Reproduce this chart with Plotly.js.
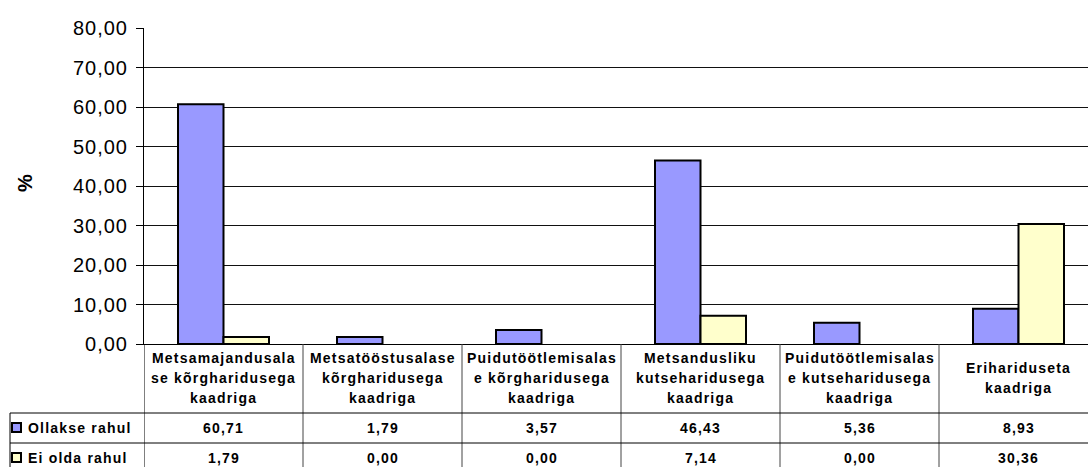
<!DOCTYPE html>
<html>
<head>
<meta charset="utf-8">
<script src="https://cdn.plot.ly/plotly-3.0.1.min.js"></script>
<style>
html,body{margin:0;padding:0;background:#fff;}
#chart{width:1088px;height:467px;}
svg text.annotation-text{letter-spacing:1.2px;}
.ytick text{letter-spacing:1px;}
</style>
</head>
<body>
<div id="chart"></div>
<script>
// Data
const categoryLines = [
  ["Metsamajandusala", "se kõrgharidusega", "kaadriga"],
  ["Metsatööstusalase", "kõrgharidusega", "kaadriga"],
  ["Puidutöötlemisalas", "e kõrgharidusega", "kaadriga"],
  ["Metsandusliku", "kutseharidusega", "kaadriga"],
  ["Puidutöötlemisalas", "e kutseharidusega", "kaadriga"],
  ["Erihariduseta", "kaadriga"]
];
const categories = categoryLines.map(l => l.join(" "));
const seriesNames = ["Ollakse rahul", "Ei olda rahul"];
const ollakseRahul = [60.71, 1.79, 3.57, 46.43, 5.36, 8.93];
const eiOldaRahul = [1.79, 0.00, 0.00, 7.14, 0.00, 30.36];
const seriesValues = [ollakseRahul, eiOldaRahul];
const seriesColors = ["#9999FF", "#FFFFCC"];
const yTickVals = [0, 10, 20, 30, 40, 50, 60, 70, 80];
const yAxisTitle = "%";

// Layout helpers (pixel -> paper)
const W = 1088, H = 467, L = 144, T = 28, B = 123;
const plotH = H - T - B, plotW = W - L;
const py = p => (T + plotH - p) / plotH;
const px = p => (p - L) / plotW;
const fmt = v => v.toFixed(2).replace(".", ",");

const xIdx = categories.map((_, i) => i);
const traces = seriesValues.map((vals, s) => ({
  type: "bar",
  name: seriesNames[s],
  x: xIdx,
  y: vals,
  marker: {color: seriesColors[s], line: {color: "#000", width: vals.map(v => v === 0 ? 0 : 2)}},
  hoverinfo: "none"
}));

const font = {family: "Liberation Sans, Arial, sans-serif", color: "#000"};
const annotations = [];
const shapes = [];

// Category header labels
categoryLines.forEach((lines, i) => {
  const n = lines.length;
  const centers = n === 3 ? [358, 378, 398] : [368, 388];
  lines.forEach((t, k) => {
    annotations.push({
      xref: "x", yref: "paper", x: i, y: py(centers[k]),
      text: "<b>" + t + "</b>", showarrow: false,
      xanchor: "center", yanchor: "middle",
      font: Object.assign({}, font, {size: 14})
    });
  });
});

// Table rows
const rowCenters = [428, 458];
const squareTops = [423, 453];
seriesValues.forEach((vals, s) => {
  annotations.push({
    xref: "paper", yref: "paper", x: px(26), y: py(rowCenters[s]),
    text: "<b>" + seriesNames[s] + "</b>", showarrow: false,
    xanchor: "left", yanchor: "middle",
    font: Object.assign({}, font, {size: 14})
  });
  shapes.push({
    type: "rect", xref: "paper", yref: "paper",
    x0: px(12), x1: px(21), y0: py(squareTops[s]), y1: py(squareTops[s] + 9),
    fillcolor: seriesColors[s], line: {color: "#000", width: 2}
  });
  vals.forEach((v, i) => {
    annotations.push({
      xref: "x", yref: "paper", x: i, y: py(rowCenters[s]),
      text: "<b>" + fmt(v) + "</b>", showarrow: false,
      xanchor: "center", yanchor: "middle",
      font: Object.assign({}, font, {size: 14})
    });
  });
});

// Table grid lines
for (let i = 0; i < categories.length; i++) {
  shapes.push({
    type: "line", xref: "x", yref: "paper",
    x0: i - 0.5, x1: i - 0.5, y0: 0, y1: py(470),
    line: {color: i === 0 ? "#000" : "#444", width: 1}
  });
}
[413, 443].forEach(p => {
  shapes.push({
    type: "line", xref: "paper", yref: "paper",
    x0: px(10), x1: 1, y0: py(p), y1: py(p),
    line: {color: "#000", width: 1}
  });
});
shapes.push({
  type: "line", xref: "paper", yref: "paper",
  x0: px(10), x1: px(10), y0: py(413), y1: py(470),
  line: {color: "#000", width: 1}
});

// Y axis title
annotations.push({
  xref: "paper", yref: "paper", x: px(25), y: py(183),
  text: "<b>" + yAxisTitle + "</b>", showarrow: false, textangle: -90,
  xanchor: "center", yanchor: "middle",
  font: Object.assign({}, font, {size: 20})
});

const catW = 159;
const layout = {
  width: W, height: H,
  margin: {l: L, r: 0, t: T, b: B, pad: 0},
  paper_bgcolor: "#fff", plot_bgcolor: "#fff",
  separators: ", ",
  showlegend: false,
  barmode: "group",
  bargap: 1 - 91 / catW,
  bargroupgap: 0,
  xaxis: {
    range: [-0.5, -0.5 + plotW / catW],
    showticklabels: false, ticks: "", showgrid: false, zeroline: false,
    showline: true, linecolor: "#000", linewidth: 1, fixedrange: true
  },
  yaxis: {
    range: [0, 80], tickvals: yTickVals, tickformat: ".2f",
    ticks: "outside", ticklen: 7, tickcolor: "#000", tickwidth: 1,
    showline: true, linecolor: "#000", linewidth: 1,
    showgrid: true, gridcolor: "#111", gridwidth: 1, zeroline: false,
    tickfont: {family: "Liberation Sans, Arial, sans-serif", size: 20, color: "#000"},
    ticklabelstandoff: 4,
    fixedrange: true
  },
  annotations: annotations,
  shapes: shapes
};

Plotly.newPlot("chart", traces, layout, {displayModeBar: false, staticPlot: true});
</script>
</body>
</html>
